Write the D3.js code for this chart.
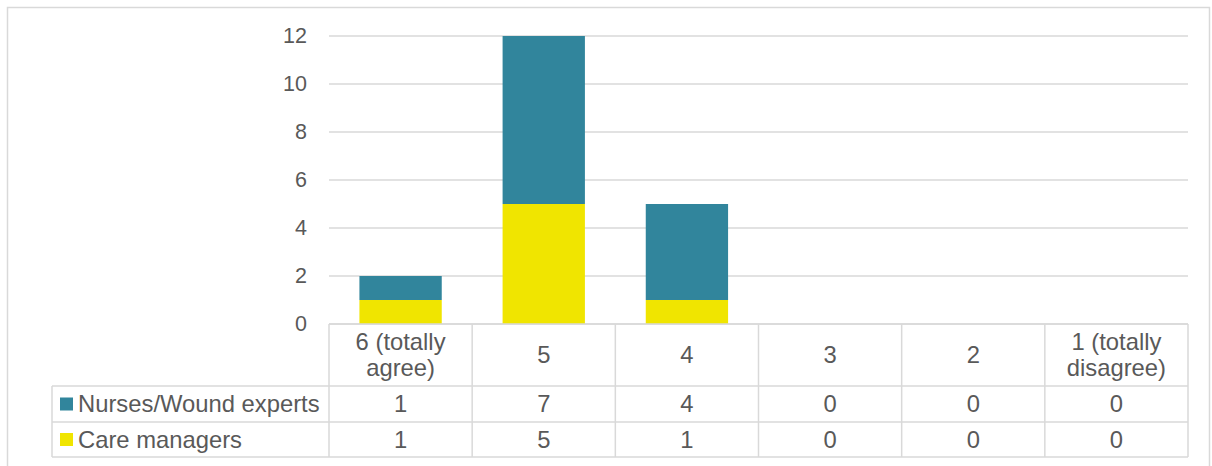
<!DOCTYPE html>
<html>
<head>
<meta charset="utf-8">
<script src="https://cdn.jsdelivr.net/npm/d3@7"></script>
<style>
  html, body { margin: 0; padding: 0; background: #fff; }
  svg { display: block; font-family: "Liberation Sans", Arial, sans-serif; }
</style>
</head>
<body>
<svg id="chart" width="1212" height="466"></svg>
<script>
// Response categories (agreement scale), left to right
const categories = ["6 (totally agree)", "5", "4", "3", "2", "1 (totally disagree)"];
const categoryLines = [["6 (totally", "agree)"], ["5"], ["4"], ["3"], ["2"], ["1 (totally", "disagree)"]];
// Counts per group
const careManagers = [1, 5, 1, 0, 0, 0];
const nursesWoundExperts = [1, 7, 4, 0, 0, 0];
const seriesNames = ["Care managers", "Nurses/Wound experts"];
const seriesColors = ["#F0E500", "#31859C"];
const yTicks = [0, 2, 4, 6, 8, 10, 12];

const svg = d3.select("#chart");
const W = 1212, H = 466;
const plot = { left: 329, right: 1188, top: 36, bottom: 324 };
const gridColor = "#D9D9D9";
const textColor = "#595959";
const tableFont = "23.8px";
const tickFont = "21.5px";

// Outer chart frame
svg.append("rect")
  .attr("x", 7.5).attr("y", 7.5)
  .attr("width", W - 10).attr("height", H - 5)
  .attr("fill", "none").attr("stroke", gridColor).attr("stroke-width", 1.5);

const x = d3.scaleBand().domain(categories).range([plot.left, plot.right]).paddingInner(0).paddingOuter(0);
const y = d3.scaleLinear().domain([0, 12]).range([plot.bottom, plot.top]);

// Gridlines
svg.append("g").selectAll("line").data(yTicks).join("line")
  .attr("x1", plot.left).attr("x2", plot.right)
  .attr("y1", d => y(d)).attr("y2", d => y(d))
  .attr("stroke", gridColor).attr("stroke-width", 1.5);

// Y axis labels
const yAxis = d3.axisLeft(y).tickValues(yTicks).tickSize(0).tickPadding(0);
const yg = svg.append("g").attr("transform", `translate(${307},0)`).call(yAxis);
yg.select(".domain").remove();
yg.selectAll("text").attr("fill", textColor).style("font-size", tickFont)
  .style("font-family", "'Liberation Sans', Arial, sans-serif");

// Stacked bars
const rows = categories.map((c, i) => ({ cat: c, "Care managers": careManagers[i], "Nurses/Wound experts": nursesWoundExperts[i] }));
const stack = d3.stack().keys(seriesNames)(rows);
const barW = x.bandwidth() * 0.575;
svg.append("g").selectAll("g").data(stack).join("g")
  .attr("fill", (d, i) => seriesColors[i])
  .selectAll("rect").data(d => d.filter(p => p[1] > p[0])).join("rect")
  .attr("x", d => x(d.data.cat) + (x.bandwidth() - barW) / 2)
  .attr("width", barW)
  .attr("y", d => y(d[1]))
  .attr("height", d => y(d[0]) - y(d[1]));

// Data table below the plot
const tableTop = plot.bottom, headerBottom = 386, row1Bottom = 422, row2Bottom = 457;
const legendLeft = 52;
const t = svg.append("g").attr("stroke", gridColor).attr("stroke-width", 1.5).attr("fill", "none");
// horizontal lines
t.append("line").attr("x1", plot.left).attr("x2", plot.right).attr("y1", tableTop).attr("y2", tableTop);
[headerBottom, row1Bottom, row2Bottom].forEach(yy =>
  t.append("line").attr("x1", legendLeft).attr("x2", plot.right).attr("y1", yy).attr("y2", yy));
// vertical lines
const bounds = categories.map(c => x(c)).concat([plot.right]);
bounds.forEach(xx =>
  t.append("line").attr("x1", xx).attr("x2", xx).attr("y1", tableTop).attr("y2", row2Bottom));
t.append("line").attr("x1", legendLeft).attr("x2", legendLeft).attr("y1", headerBottom).attr("y2", row2Bottom);

// Header labels
const hdr = svg.append("g").attr("fill", textColor).style("font-size", tableFont).attr("text-anchor", "middle");
categoryLines.forEach((lines, i) => {
  const cx = x(categories[i]) + x.bandwidth() / 2;
  const midY = (tableTop + headerBottom) / 2;
  const lh = 26;
  lines.forEach((ln, j) => {
    hdr.append("text").attr("x", cx)
      .attr("y", midY + (j - (lines.length - 1) / 2) * lh)
      .attr("dy", "0.35em").text(ln);
  });
});

// Table rows: legend key + values (top row is the upper stack segment)
const tableRows = [
  { name: seriesNames[1], color: seriesColors[1], values: nursesWoundExperts, top: headerBottom, bottom: row1Bottom },
  { name: seriesNames[0], color: seriesColors[0], values: careManagers, top: row1Bottom, bottom: row2Bottom }
];
tableRows.forEach(r => {
  const cy = (r.top + r.bottom) / 2;
  svg.append("rect").attr("x", 60).attr("y", cy - 6.5).attr("width", 13).attr("height", 13).attr("fill", r.color);
  svg.append("text").attr("x", 78).attr("y", cy).attr("dy", "0.35em")
    .attr("fill", textColor).style("font-size", tableFont).text(r.name);
  r.values.forEach((v, i) => {
    svg.append("text").attr("x", x(categories[i]) + x.bandwidth() / 2).attr("y", cy).attr("dy", "0.35em")
      .attr("text-anchor", "middle").attr("fill", textColor).style("font-size", tableFont).text(v);
  });
});
</script>
</body>
</html>
